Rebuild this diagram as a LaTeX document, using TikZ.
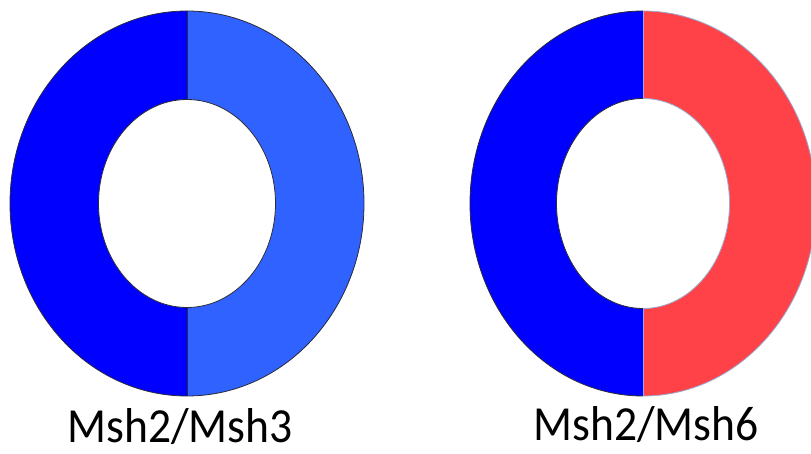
\documentclass[tikz,border=0pt]{standalone}
\usepackage{fontspec}
\setmainfont{Carlito}
\definecolor{deepblue}{HTML}{0000FF}
\definecolor{lightblue}{HTML}{3062FF}
\definecolor{salmonred}{HTML}{FF4248}
\definecolor{rimdark}{HTML}{2A2A3A}
\definecolor{rimlight}{HTML}{9AAAD0}
% #1,#2 centre; #3,#4 outer radii; #5,#6 inner radii; #7 left fill; #8 right fill; #9 right rim colour
\newcommand\splitring[9]{%
  \begin{scope}
    \clip (#1-#3-5,#2-#4-5) rectangle (#1,#2+#4+5);
    \fill[#7,draw=rimdark,rim] (#1,#2) ellipse [x radius=#3,y radius=#4];
    \fill[white,draw=rimdark,rim] (#1,#2) ellipse [x radius=#5,y radius=#6];
  \end{scope}
  \begin{scope}
    \clip (#1,#2-#4-5) rectangle (#1+#3+5,#2+#4+5);
    \fill[#8,draw=#9,rim] (#1,#2) ellipse [x radius=#3,y radius=#4];
    \fill[white,draw=#9,rim] (#1,#2) ellipse [x radius=#5,y radius=#6];
  \end{scope}
  \draw[#9,rim] (#1,#2-#4) -- (#1,#2-#6);
  \draw[#9,rim] (#1,#2+#6) -- (#1,#2+#4);
}
\newcommand\captext[1]{\scalebox{0.93}[1]{#1}}
\begin{document}
\begin{tikzpicture}[x=1pt,y=-1pt,
  rim/.style={line width=0.8pt},
  caption/.style={anchor=base,inner sep=0pt,font=\fontsize{49}{60}\selectfont}]
  \useasboundingbox (0,0) rectangle (811,454);
  \begin{scope}
    \clip (0,0) rectangle (811,454);
    \splitring{187}{203.5}{177}{192.5}{88.5}{104}{deepblue}{lightblue}{rimdark}
    \splitring{643}{203.5}{173}{192.5}{86.5}{105}{deepblue}{salmonred}{rimlight}
  \end{scope}
  \node[caption] (msh3) at (180,442) {\captext{Msh2/Msh3}};
  \node[caption] (msh6) at (646,440) {\captext{Msh2/Msh6}};
\end{tikzpicture}
\end{document}
